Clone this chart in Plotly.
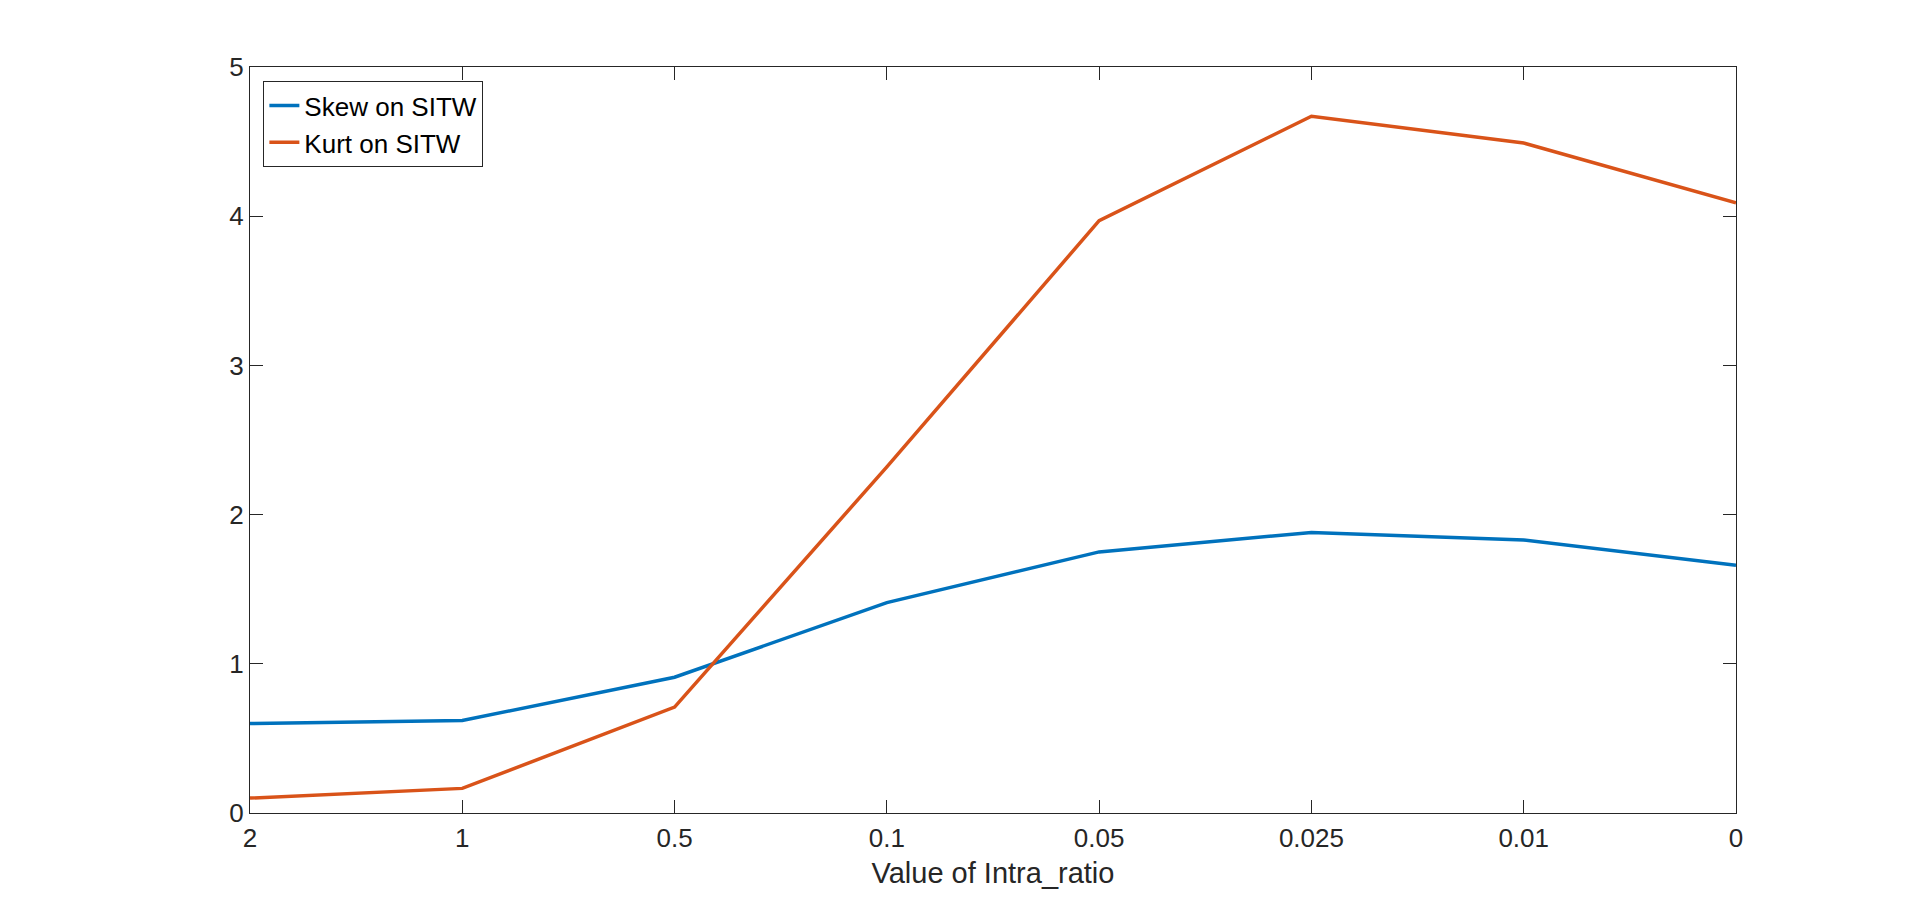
import plotly.graph_objects as go

categories = ["2", "1", "0.5", "0.1", "0.05", "0.025", "0.01", "0"]
skew_sitw = [0.60, 0.62, 0.91, 1.41, 1.75, 1.88, 1.83, 1.66]
kurt_sitw = [0.10, 0.165, 0.71, 2.32, 3.97, 4.67, 4.49, 4.09]
y_ticks = [0, 1, 2, 3, 4, 5]

x_idx = list(range(len(categories)))
axis_color = "#262626"
font_family = "Arial, Liberation Sans, Helvetica, sans-serif"

fig = go.Figure()
fig.add_trace(go.Scatter(x=x_idx, y=skew_sitw, mode="lines", name="Skew on SITW",
                         line=dict(color="#0072BD", width=3.5)))
fig.add_trace(go.Scatter(x=x_idx, y=kurt_sitw, mode="lines", name="Kurt on SITW",
                         line=dict(color="#D95319", width=3.5)))

fig.update_layout(
    width=1920, height=913,
    margin=dict(l=242, r=192, t=59, b=108),
    paper_bgcolor="white", plot_bgcolor="white",
    font=dict(family=font_family, size=26, color=axis_color),
    showlegend=True,
    legend=dict(x=0.009, y=0.981, xanchor="left", yanchor="top",
                bgcolor="white", bordercolor=axis_color, borderwidth=1,
                font=dict(size=26, color="black"), traceorder="normal"),
    xaxis=dict(range=[0, 7], tickmode="array", tickvals=x_idx, ticktext=categories,
               showgrid=False, zeroline=False, showline=True, linecolor=axis_color,
               linewidth=1, mirror="allticks", ticks="inside", ticklen=13,
               tickcolor=axis_color, tickfont=dict(size=26, color=axis_color),
               ticklabelstandoff=2,
               title=dict(text="Value of Intra_ratio", font=dict(size=29, color=axis_color), standoff=10)),
    yaxis=dict(range=[0, 5], tickmode="array", tickvals=y_ticks,
               showgrid=False, zeroline=False, showline=True, linecolor=axis_color,
               linewidth=1, mirror="allticks", ticks="inside", ticklen=13,
               tickcolor=axis_color, tickfont=dict(size=26, color=axis_color)),
)

fig.write_html("out.html")
